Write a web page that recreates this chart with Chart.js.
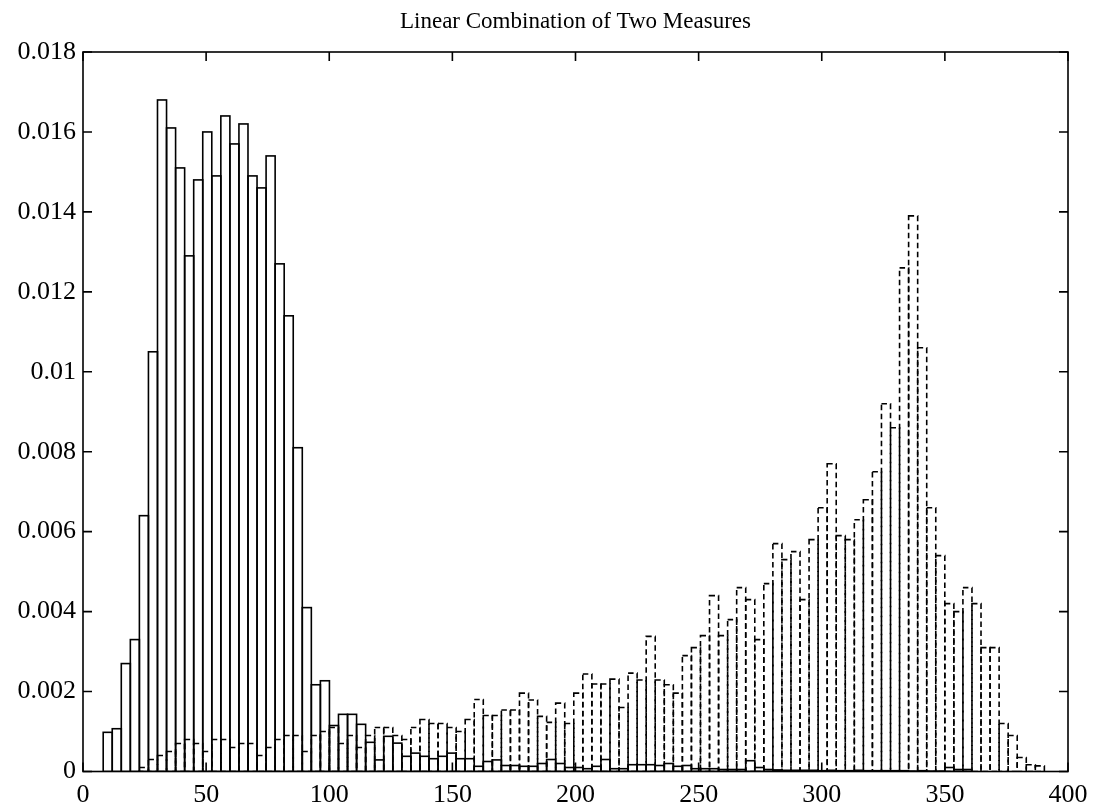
<!DOCTYPE html>
<html>
<head>
<meta charset="utf-8">
<title>Linear Combination of Two Measures</title>
<script src="https://cdn.jsdelivr.net/npm/chart.js@4.4.0/dist/chart.umd.min.js"></script>
<style>
  html, body { margin: 0; padding: 0; background: #fff; }
</style>
</head>
<body>
<canvas id="grafico" width="1096" height="807"></canvas>
<script>
// both measures share one set of 104 histogram bins: [first edge, last edge]
var binRange = [8.2, 390.4];

// normalised bin heights, first measure (solid outline)
var solidHeights = [
  0.00098, 0.00107, 0.0027, 0.0033, 0.0064, 0.0105, 0.0168, 0.0161, 0.0151, 0.0129,
  0.0148, 0.0160, 0.0149, 0.0164, 0.0157, 0.0162, 0.0149, 0.0146, 0.0154, 0.0127,
  0.0114, 0.0081, 0.0041, 0.00217, 0.00227, 0.00115, 0.00143, 0.00143, 0.00118, 0.00073,
  0.00029, 0.00088, 0.00071, 0.00038, 0.00046, 0.00038, 0.00032, 0.00038, 0.00046, 0.00032,
  0.00032, 0.00013, 0.00025, 0.00029, 0.00015, 0.00015, 0.00013, 0.00013, 0.0002, 0.0003,
  0.0002, 0.0001, 0.0001, 0.00007, 0.00013, 0.0003, 0.00007, 0.00007, 0.00017, 0.00017,
  0.00017, 0.00015, 0.0002, 0.00013, 0.00015, 0.00007, 0.00007, 0.00007, 0.00005, 0.00005,
  0.00005, 0.00027, 0.0001, 0.00005, 0.00004, 0.00003, 0.00003, 0.00003, 0.00003, 0.00002,
  0.00003, 0.00002, 0.00002, 0.00003, 0.00002, 0.00002, 0.00002, 0.00002, 0.00002, 0.00001,
  0.00002, 0.00001, 0.00001, 0.0001, 0.00005, 0.00005, 0, 0, 0, 0,
  0, 0, 0, 0
];

// normalised bin heights, second measure (dashed outline)
var dashedHeights = [
  0, 0, 0, 0,
  0.0001, 0.0003, 0.0004, 0.0005, 0.0007, 0.0008, 0.0007, 0.0005, 0.0008, 0.0008,
  0.0006, 0.0007, 0.0007, 0.0004, 0.0006, 0.0008, 0.0009, 0.0009, 0.0005, 0.0009,
  0.0010, 0.0011, 0.0007, 0.0009, 0.0006, 0.0009, 0.0011, 0.0011, 0.0009, 0.0008,
  0.0011, 0.0013, 0.0012, 0.0012, 0.0011, 0.0010, 0.0013, 0.0018, 0.0014, 0.0014,
  0.00154, 0.00154, 0.00196, 0.00179, 0.00138, 0.00123, 0.00171, 0.0012, 0.00196, 0.00244,
  0.00219, 0.00219, 0.00231, 0.0016, 0.00246, 0.00229, 0.00338, 0.00229, 0.00217, 0.00196,
  0.0029, 0.0031, 0.0034, 0.0044, 0.0034, 0.0038, 0.0046, 0.0043, 0.0033, 0.0047,
  0.0057, 0.0053, 0.0055, 0.0043, 0.0058, 0.0066, 0.0077, 0.0059, 0.0058, 0.0063,
  0.0068, 0.0075, 0.0092, 0.0086, 0.0126, 0.0139, 0.0106, 0.0066, 0.0054, 0.0042,
  0.0040, 0.0046, 0.0042, 0.0031, 0.0031, 0.0012, 0.0009, 0.00035, 0.00017, 0.00014
];

var xTicks = [0, 50, 100, 150, 200, 250, 300, 350, 400];
var yTicks = [0, 0.002, 0.004, 0.006, 0.008, 0.01, 0.012, 0.014, 0.016, 0.018];

var FONT = 'Liberation Serif';

function binCenters(range, count) {
  var w = (range[1] - range[0]) / count;
  return Array.from({ length: count }, function (_, i) { return range[0] + w * (i + 0.5); });
}

function toPoints(heights) {
  var c = binCenters(binRange, heights.length);
  return heights.map(function (h, i) { return { x: c[i], y: h }; });
}

// bar outlines: drawn from the bar elements the controller laid out
var histOutline = {
  id: 'histOutline',
  afterDatasetsDraw: function (chart) {
    var ctx = chart.ctx;
    var a = chart.chartArea;
    ctx.save();
    ctx.beginPath();
    ctx.rect(a.left, a.top, a.right - a.left, a.bottom - a.top);
    ctx.clip();
    ctx.strokeStyle = '#000';
    ctx.lineWidth = 1.6;
    chart.data.datasets.forEach(function (ds, di) {
      var meta = chart.getDatasetMeta(di);
      ctx.setLineDash(ds.outlineDash || []);
      meta.data.forEach(function (bar, i) {
        if (!ds.data[i].y) return;
        var p = bar.getProps(['x', 'y', 'base', 'width'], true);
        ctx.strokeRect(p.x - p.width / 2, p.y, p.width, p.base - p.y);
      });
    });
    ctx.restore();
  }
};

// box round the axes with inward ticks on all four sides
var axesBox = {
  id: 'axesBox',
  afterDraw: function (chart) {
    var ctx = chart.ctx;
    var a = chart.chartArea;
    var xs = chart.scales.x;
    var ys = chart.scales.y;
    var len = 9;
    ctx.save();
    ctx.setLineDash([]);
    ctx.strokeStyle = '#000';
    ctx.lineWidth = 1.6;
    ctx.strokeRect(a.left, a.top, a.right - a.left, a.bottom - a.top);
    ctx.beginPath();
    xs.ticks.forEach(function (t) {
      var px = xs.getPixelForValue(t.value);
      ctx.moveTo(px, a.bottom); ctx.lineTo(px, a.bottom - len);
      ctx.moveTo(px, a.top); ctx.lineTo(px, a.top + len);
    });
    ys.ticks.forEach(function (t) {
      var py = ys.getPixelForValue(t.value);
      ctx.moveTo(a.left, py); ctx.lineTo(a.left + len, py);
      ctx.moveTo(a.right, py); ctx.lineTo(a.right - len, py);
    });
    ctx.stroke();
    ctx.restore();
  }
};

var ctx = document.getElementById('grafico').getContext('2d');

var chart = new Chart(ctx, {
  type: 'bar',
  data: {
    datasets: [{
      label: 'Measure 1',
      data: toPoints(solidHeights),
      backgroundColor: 'rgba(0,0,0,0)',
      borderWidth: 0,
      outlineDash: []
    }, {
      label: 'Measure 2',
      data: toPoints(dashedHeights),
      backgroundColor: 'rgba(0,0,0,0)',
      borderWidth: 0,
      outlineDash: [5.5, 3.5]
    }]
  },
  plugins: [histOutline, axesBox],
  options: {
    responsive: false,
    animation: false,
    devicePixelRatio: 1,
    grouped: false,
    barPercentage: 1,
    categoryPercentage: 1,
    layout: { padding: { left: 0, right: 28, top: 0, bottom: 0 } },
    plugins: {
      legend: { display: false },
      tooltip: { enabled: false },
      title: {
        display: true,
        fullSize: false,
        text: 'Linear Combination of Two Measures',
        color: '#000',
        font: { family: FONT, size: 23, weight: 'normal' },
        padding: { top: 8, bottom: 16.4 }
      }
    },
    scales: {
      x: {
        type: 'linear',
        min: 0,
        max: 400,
        offset: false,
        grid: { display: false, drawTicks: false },
        border: { display: false },
        afterBuildTicks: function (s) { s.ticks = xTicks.map(function (v) { return { value: v }; }); },
        afterFit: function (s) { s.height = 35.5; },
        ticks: {
          color: '#000',
          padding: 8,
          maxRotation: 0,
          autoSkip: false,
          font: { family: FONT, size: 26 },
          callback: function (v) { return String(v); }
        }
      },
      y: {
        min: 0,
        max: 0.018,
        grid: { display: false, drawTicks: false },
        border: { display: false },
        afterBuildTicks: function (s) { s.ticks = yTicks.map(function (v) { return { value: v }; }); },
        afterFit: function (s) { s.width = 83; },
        ticks: {
          color: '#000',
          padding: 7,
          autoSkip: false,
          font: { family: FONT, size: 26 },
          callback: function (v) { return String(+v.toFixed(3)); }
        }
      }
    }
  }
});
</script>
</body>
</html>
